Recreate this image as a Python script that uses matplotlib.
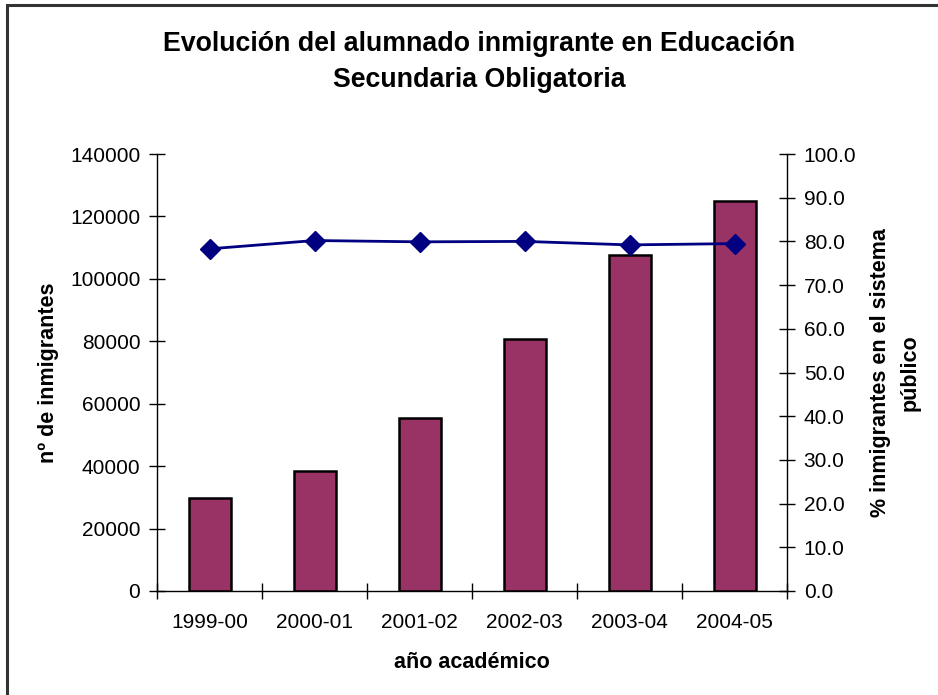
import matplotlib
matplotlib.use("Agg")
import matplotlib.pyplot as plt
from matplotlib.patches import Rectangle
import numpy as np

plt.rcParams['font.family'] = ['Liberation Sans', 'DejaVu Sans']

categories = ["1999-00", "2000-01", "2001-02", "2002-03", "2003-04", "2004-05"]
students = [29800, 38400, 55500, 80600, 107600, 125000]
pct_public = [78.3, 80.2, 79.9, 80.0, 79.2, 79.5]

W, H = 938, 695
fig = plt.figure(figsize=(W / 100, H / 100), dpi=100)
fig.patch.set_facecolor('white')

# figure frame (only top and left visible)
fig.add_artist(Rectangle((7 / W, -0.1), 1.2, (H - 5) / H + 0.1, transform=fig.transFigure,
                         fill=False, edgecolor='#333333', linewidth=2.2))

ax = fig.add_axes([157 / W, 1 - 591 / H, (787 - 157) / W, (591 - 154) / H])
x = np.arange(len(categories))
ax.bar(x, students, width=0.4, color='#993366', edgecolor='black', linewidth=1.8, zorder=2)
ax.set_xlim(-0.5, len(categories) - 0.5)
ax.set_ylim(0, 140000)
ax.set_yticks(np.arange(0, 140001, 20000))
ax.set_xticks(x)
ax.set_xticklabels(categories)
ax.set_xticks(np.arange(-0.5, len(categories), 1.0), minor=True)
ax.tick_params(axis='x', which='major', length=0, pad=16, labelsize=15)
ax.tick_params(axis='x', which='minor', direction='inout', length=12, width=1)
ax.tick_params(axis='y', direction='inout', length=12, width=1, labelsize=15, pad=6)
for s in ['top', 'right']:
    ax.spines[s].set_visible(False)
ax.spines['left'].set_linewidth(1)
ax.spines['bottom'].set_linewidth(1)
ax.set_xlabel('año académico', fontsize=15.5, fontweight='bold', labelpad=14)
ax.set_ylabel('nº de inmigrantes', fontsize=15.5, fontweight='bold', labelpad=8)

ax2 = ax.twinx()
ax2.plot(x, pct_public, color='#000080', linewidth=2, marker='D', markersize=10, zorder=3)
ax2.set_ylim(0, 100)
ax2.set_yticks(np.arange(0, 100.1, 10))
ax2.set_yticklabels([f"{v:.1f}" for v in np.arange(0, 100.1, 10)])
ax2.tick_params(axis='y', direction='inout', length=12, width=1, labelsize=15, pad=6)
for s in ['top', 'left', 'bottom']:
    ax2.spines[s].set_visible(False)
ax2.spines['right'].set_linewidth(1)
ax2.set_ylabel('% inmigrantes en el sistema\npúblico', fontsize=15.5, fontweight='bold',
               labelpad=10, linespacing=1.5)

fig.text(479 / W, 1 - 62 / H, 'Evolución del alumnado inmigrante en Educación\nSecundaria Obligatoria',
         ha='center', va='center', fontsize=19.3, fontweight='bold', linespacing=1.5)

fig.savefig('out.png', dpi=100, facecolor='white')
